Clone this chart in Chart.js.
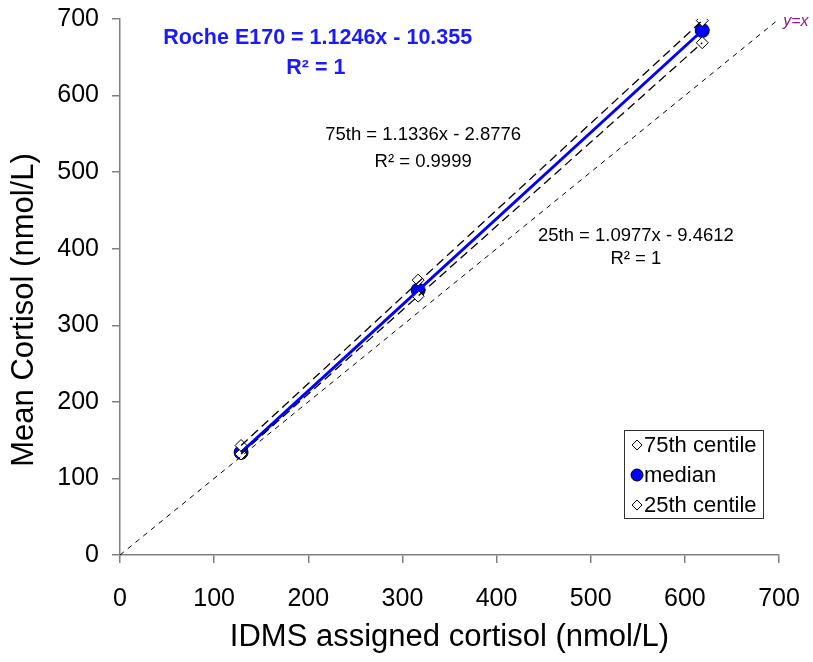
<!DOCTYPE html>
<html>
<head>
<meta charset="utf-8">
<script src="https://cdn.jsdelivr.net/npm/chart.js@4"></script>
<style>
  body { margin: 0; background: #fff; }
  #wrap { width: 813px; height: 662px; position: relative; }
</style>
</head>
<body>
<div id="wrap"><canvas id="myChart"></canvas></div>
<script>
const ctx = document.getElementById('myChart');

// IDMS assigned values (x) and centile results (y)
var idms = [128.6, 316.7, 618.5];
var p75 = [143, 359, 698];
var median = [134, 346, 685];
var p25 = [132, 338, 669];

// trendline end points (x from first to last sample)
var trend75 = [143, 698];
var trendMedian = [134, 685];
var trend25 = [132, 669];

var axisMax = 700;
var tickStep = 100;

function pts(xs, ys) {
    var out = [];
    for (let i = 0; i < xs.length; i++) {
        out.push({ x: xs[i], y: ys[i] });
    }
    return out;
}

var trendX = [idms[0], idms[idms.length - 1]];

const font = '"Liberation Sans", Arial, sans-serif';

// text drawn at data positions, y title, legend box
const notes = {
    id: 'notes',
    afterDatasetsDraw(chart) {
        const c = chart.ctx;
        const xs = chart.scales.x;
        const ys = chart.scales.y;
        c.save();
        c.textAlign = 'center';
        c.textBaseline = 'middle';

        c.fillStyle = '#1a1aff';
        c.font = 'bold 21.5px ' + font;
        c.fillText('Roche E170 = 1.1246x - 10.355', xs.getPixelForValue(210), ys.getPixelForValue(675));
        c.fillText('R² = 1', xs.getPixelForValue(208), ys.getPixelForValue(636));

        c.fillStyle = '#000';
        c.font = '18.5px ' + font;
        c.fillText('75th = 1.1336x - 2.8776', xs.getPixelForValue(322), ys.getPixelForValue(549));
        c.fillText('R² = 0.9999', xs.getPixelForValue(322), ys.getPixelForValue(514));
        c.fillText('25th = 1.0977x - 9.4612', xs.getPixelForValue(548), ys.getPixelForValue(417));
        c.fillText('R² = 1', xs.getPixelForValue(548), ys.getPixelForValue(387));

        c.fillStyle = '#8b1a8b';
        c.font = 'italic 16px ' + font;
        c.fillText('y=x', xs.getPixelForValue(718), ys.getPixelForValue(697));

        // y axis title (sits a little below the axis centre in the original)
        c.save();
        c.translate(24, 310);
        c.rotate(-Math.PI / 2);
        c.font = '31px ' + font;
        c.fillStyle = '#000';
        c.fillText('Mean Cortisol (nmol/L)', 0, 0);
        c.restore();

        // legend
        var lx = 624, ly = 430, lw = 139, lh = 88;
        c.strokeStyle = '#333';
        c.lineWidth = 1;
        c.strokeRect(lx + 0.5, ly + 0.5, lw, lh);
        var rows = [
            { label: '75th centile', style: 'rectRot', fill: '#fff', r: 5 },
            { label: 'median', style: 'circle', fill: '#0000ff', r: 6 },
            { label: '25th centile', style: 'rectRot', fill: '#fff', r: 5 }
        ];
        c.font = '22px ' + font;
        c.textAlign = 'left';
        for (let i = 0; i < rows.length; i++) {
            var ry = ly + 15 + i * 30;
            c.fillStyle = rows[i].fill;
            c.strokeStyle = '#000';
            c.lineWidth = 1;
            Chart.helpers.drawPoint(c, { pointStyle: rows[i].style, radius: rows[i].r, borderWidth: 1 }, lx + 13, ry);
            c.fillStyle = '#000';
            c.fillText(rows[i].label, lx + 20, ry + 1);
        }
        c.restore();
    }
};

new Chart(ctx, {
    type: 'scatter',
    data: {
        datasets: [
            {
                label: 'y=x',
                data: [{ x: 0, y: 0 }, { x: axisMax, y: axisMax }],
                showLine: true,
                borderColor: '#000',
                borderWidth: 1,
                borderDash: [5, 5],
                pointRadius: 0
            },
            {
                label: '75th trend',
                data: pts(trendX, trend75),
                showLine: true,
                borderColor: '#000',
                borderWidth: 1.3,
                borderDash: [9, 5],
                pointRadius: 0
            },
            {
                label: '25th trend',
                data: pts(trendX, trend25),
                showLine: true,
                borderColor: '#000',
                borderWidth: 1.3,
                borderDash: [9, 5],
                pointRadius: 0
            },
            {
                label: 'median trend',
                data: pts(trendX, trendMedian),
                showLine: true,
                borderColor: '#0000ff',
                borderWidth: 3,
                pointRadius: 0
            },
            {
                label: '75th centile',
                data: pts(idms, p75),
                pointStyle: 'rectRot',
                pointRadius: 6,
                backgroundColor: '#fff',
                borderColor: '#000',
                borderWidth: 1
            },
            {
                label: '25th centile',
                data: pts(idms, p25),
                pointStyle: 'rectRot',
                pointRadius: 6,
                backgroundColor: '#fff',
                borderColor: '#000',
                borderWidth: 1
            },
            {
                label: 'median',
                data: pts(idms, median),
                pointStyle: 'circle',
                pointRadius: 7,
                backgroundColor: '#0000ff',
                borderColor: '#000033',
                borderWidth: 1
            }
        ]
    },
    options: {
        responsive: true,
        maintainAspectRatio: false,
        animation: false,
        layout: { padding: { top: 19, right: 34, left: 0, bottom: 0 } },
        plugins: {
            legend: { display: false },
            tooltip: { enabled: false }
        },
        scales: {
            x: {
                min: 0,
                max: axisMax,
                afterFit(s) { s.height = 107; s.paddingLeft = 0; s.paddingRight = 0; },
                border: { color: '#808080', width: 1.5 },
                grid: { drawOnChartArea: false, tickLength: 8, color: '#808080', lineWidth: 1.5 },
                ticks: { stepSize: tickStep, color: '#000', font: { family: font, size: 25 }, padding: 21 },
                title: { display: true, text: 'IDMS assigned cortisol (nmol/L)', color: '#000', font: { family: font, size: 31 }, padding: { top: 0, bottom: 6 } }
            },
            y: {
                min: 0,
                max: axisMax,
                afterFit(s) { s.width = 120; s.paddingTop = 0; s.paddingBottom = 0; },
                border: { color: '#808080', width: 1.5 },
                grid: { drawOnChartArea: false, tickLength: 8, color: '#808080', lineWidth: 1.5 },
                ticks: { stepSize: tickStep, color: '#000', font: { family: font, size: 25 }, padding: 13 },
                title: { display: false }
            }
        }
    },
    plugins: [notes]
});
</script>
</body>
</html>
